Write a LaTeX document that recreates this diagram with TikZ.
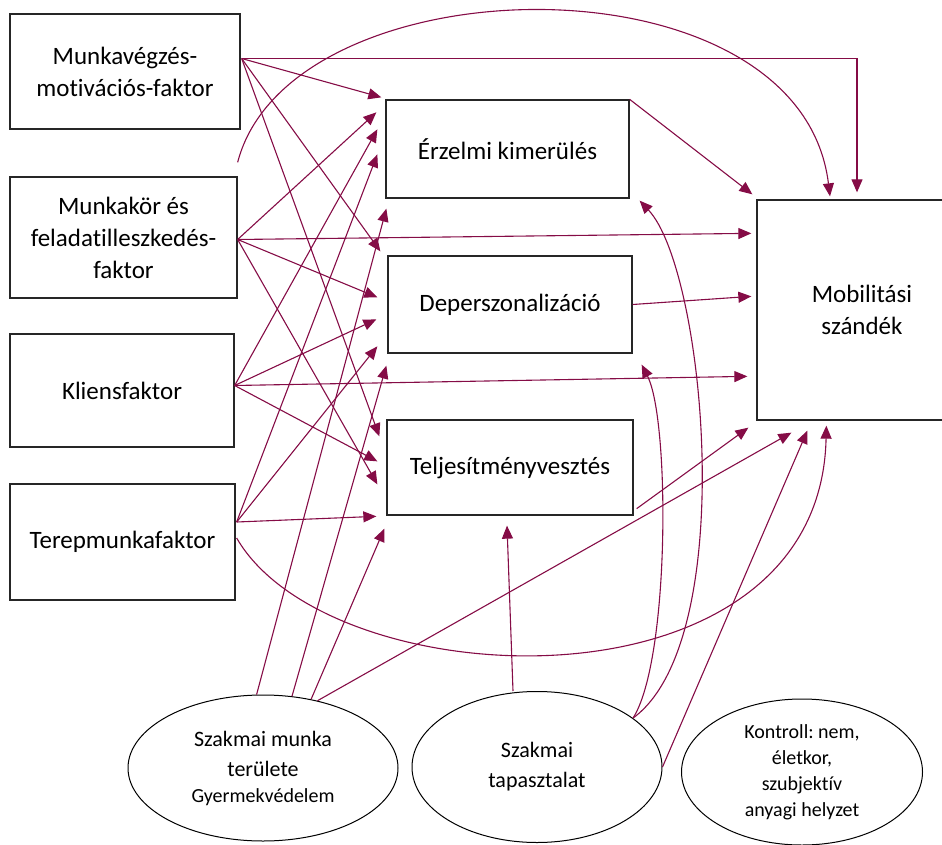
\documentclass[tikz,border=0pt]{standalone}
\usepackage{fontspec}
\setmainfont[Ligatures=NoCommon]{Carlito}
\usepackage{tikz}
\usetikzlibrary{arrows.meta,calc,shapes.geometric}
\frenchspacing

\definecolor{linkcolor}{RGB}{133,12,70}

\begin{document}
\begin{tikzpicture}[x=1pt,y=-1pt,
        factor/.style={draw=black!85, line width=1.3pt, align=center, inner sep=0pt, font=\fontsize{25}{32}\selectfont},
        control/.style={ellipse, draw=black, line width=1pt, align=center, inner sep=0pt, font=\fontsize{22}{30}\selectfont},
        link/.style={draw=linkcolor, line width=1.1pt, -{Triangle[length=13pt,width=11pt]}}]

        \useasboundingbox (0,0) rectangle (942,845);

        % factors on the left
        \node[factor, minimum width=230pt, minimum height=115pt] (motiv) at (125,71.5) {Munkavégzés-\\motivációs-faktor};

        \node[factor, minimum width=227pt, minimum height=121pt] (feladat) at (123.5,237.5) {Munkakör és\\feladatilleszkedés-\\faktor};

        \node[factor, minimum width=224pt, minimum height=113pt] (kliens) at (122,390.5) {Kliensfaktor};

        \node[factor, minimum width=225pt, minimum height=116pt] (terep) at (122.5,542) {Terepmunkafaktor};

        % burnout boxes
        \node[factor, minimum width=243pt, minimum height=98pt] (erzelmi) at (507.5,149) {Érzelmi kimerülés};

        \node[factor, minimum width=244pt, minimum height=97pt] (deperz) at (510,304.5) {Deperszonalizáció};

        \node[factor, minimum width=246pt, minimum height=95pt] (teljes) at (510,467.5) {Teljesítményvesztés};

        \node[factor, minimum width=210pt, minimum height=220pt] (mobil) at (862,310) {Mobilitási\\szándék};

        % ellipses at the bottom
        \node[control, minimum width=270pt, minimum height=146pt] (terulet) at (263,768) {Szakmai munka\\területe\\[-4pt]{\fontsize{20}{26}\selectfont Gyermekvédelem}};

        \node[control, minimum width=250pt, minimum height=151pt] (tapaszt) at (537,767) {Szakmai\\tapasztalat};

        \node[control, minimum width=241pt, minimum height=146pt, font=\fontsize{20}{26}\selectfont] (kontroll) at (802,772) {Kontroll: nem,\\életkor,\\szubjektív\\anyagi helyzet};

        \coordinate (motiv-o) at ($(motiv.east)+(1,-13)$);
        \coordinate (feladat-o) at ($(feladat.east)+(0,2)$);
        \coordinate (kliens-o) at ($(kliens.east)+(0,-5)$);
        \coordinate (terep-o) at ($(terep.east)+(1,-20)$);

        % Munkavégzés-motivációs-faktor
        \draw[link] (motiv-o) -- ($(erzelmi.north west)+(-4,-2)$);
        \draw[link] (motiv-o) -- ($(deperz.north west)+(-7,-4)$);
        \draw[link] (motiv-o) -- ($(teljes.north west)+(-7,17)$);
        \draw[link] (motiv-o) -| ($(mobil.north)+(-5,-7)$);

        % Munkakör és feladatilleszkedés-faktor
        \draw[link] (feladat-o) -- ($(erzelmi.north west)+(-9,13)$);
        \draw[link] (feladat-o) -- ($(deperz.north west)+(-10,42)$);
        \draw[link] (feladat-o) -- ($(teljes.north west)+(-9,65)$);
        \draw[link] (feladat-o) -- ($(mobil.north west)+(-5,34)$);
        \draw[link] ($(feladat.north east)+(0,-14)$) .. controls (290,-40) and (800,-50) .. ($(mobil.north)+(-32,-3)$);

        % Kliensfaktor
        \draw[link] (kliens-o) -- ($(erzelmi.north west)+(-8,30)$);
        \draw[link] (kliens-o) -- ($(deperz.north west)+(-11,64)$);
        \draw[link] (kliens-o) -- ($(teljes.north west)+(-9,42)$);
        \draw[link] (kliens-o) -- ($(mobil.north west)+(-9,177)$);

        % Terepmunkafaktor
        \draw[link] (terep-o) -- ($(erzelmi.north west)+(-8,55)$);
        \draw[link] (terep-o) -- ($(deperz.north west)+(-10,91)$);
        \draw[link] (terep-o) -- ($(teljes.north west)+(-10,97)$);
        \draw[link] ($(terep.east)+(1,-4)$) .. controls (330,700) and (820,720) .. ($(mobil.south west)+(70,5)$);

        % Szakmai munka területe
        \draw[link] (terulet.95) -- ($(erzelmi.south west)+(1,10)$);
        \draw[link] (terulet.68) -- ($(deperz.south west)+(-1,12)$);
        \draw[link] (terulet.55) -- ($(teljes.south west)+(-2,13)$);
        \draw[link] (terulet.51) -- ($(mobil.south west)+(35,12)$);

        % burnout -> mobilitás
        \draw[link] (erzelmi.north east) -- ($(mobil.north west)+(-4,-5)$);
        \draw[link] (deperz.east) -- ($(mobil.north west)+(-5,97)$);
        \draw[link] ($(teljes.south east)+(3,-7)$) -- ($(mobil.south west)+(-8,7)$);

        % Szakmai tapasztalat
        \draw[link] ($(tapaszt.north)+(-24,0)$) -- ($(teljes.south)+(-3,10)$);
        \draw[link] (tapaszt.27) .. controls (740,640) and (705,270) .. ($(erzelmi.south east)+(10,2)$);
        \draw[link] (tapaszt.27) .. controls (670,660) and (670,420) .. ($(deperz.south east)+(9,11)$);
        \draw[link] (tapaszt.east) -- ($(mobil.south west)+(51,10)$);

\end{tikzpicture}
\end{document}
